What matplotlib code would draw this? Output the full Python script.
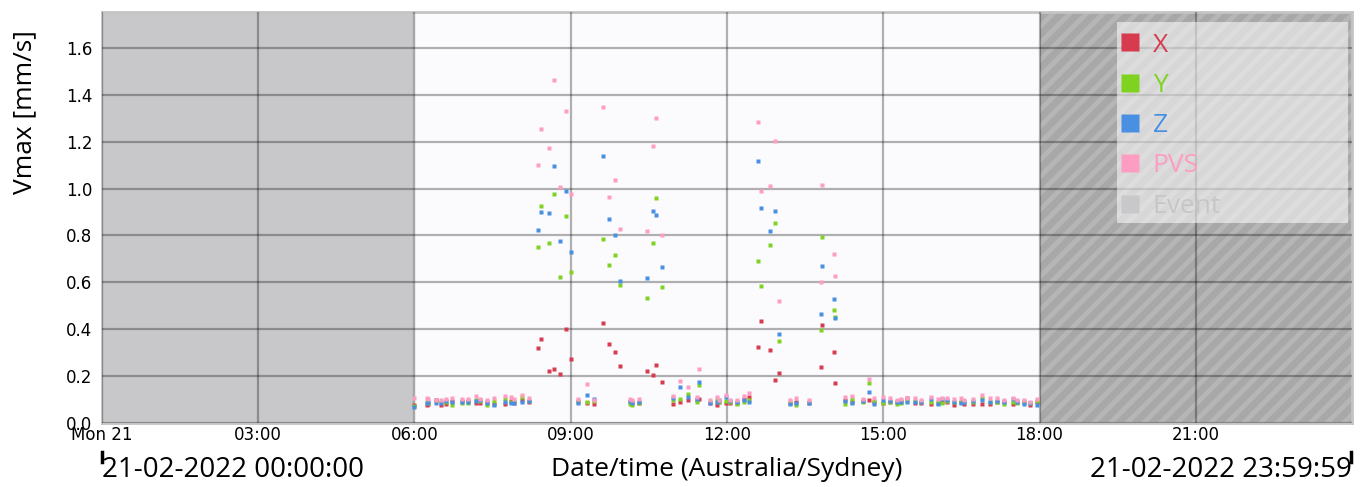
import matplotlib
matplotlib.use("Agg")
import matplotlib.pyplot as plt
from matplotlib.lines import Line2D
from matplotlib.patches import Rectangle

plt.rcParams['hatch.linewidth'] = 3.5
plt.rcParams['hatch.color'] = '#b6b6b6'

LABEL_FONT = ['Open Sans', 'DejaVu Sans']

# sample times (Australia/Sydney, 21-02-2022)
times = ["06:00", "06:14", "06:16", "06:25", "06:30", "06:36", "06:43", "06:55",
         "07:02", "07:11", "07:15", "07:23", "07:32", "07:44", "07:51", "07:55",
         "08:04", "08:12", "08:22", "08:26", "08:35", "08:41", "08:48", "08:55",
         "09:00", "09:08", "09:19", "09:27", "09:37", "09:44", "09:51", "09:57",
         "10:08", "10:10", "10:19", "10:28", "10:35", "10:38", "10:45", "10:58",
         "11:06", "11:15", "11:25", "11:28", "11:40", "11:48", "11:51", "11:59",
         "12:04", "12:11", "12:20", "12:25", "12:36", "12:39", "12:49", "12:55",
         "13:00", "13:12", "13:19", "13:34", "13:48", "13:50", "14:03", "14:04",
         "14:16", "14:24", "14:37", "14:44", "14:49", "15:00", "15:08", "15:16",
         "15:20", "15:27", "15:36", "15:44", "15:55", "16:03", "16:08", "16:13",
         "16:21", "16:30", "16:33", "16:43", "16:54", "17:03", "17:11", "17:19",
         "17:29", "17:34", "17:42", "17:49", "17:57"]

vx = [0.077, 0.077, 0.083, 0.097, 0.078, 0.081, 0.095, 0.094,
      0.092, 0.087, 0.087, 0.088, 0.080, 0.082, 0.092, 0.085,
      0.097, 0.090, 0.321, 0.358, 0.221, 0.230, 0.210, 0.401,
      0.273, 0.094, 0.085, 0.082, 0.427, 0.337, 0.303, 0.243,
      0.090, 0.091, 0.087, 0.223, 0.205, 0.249, 0.175, 0.081,
      0.091, 0.100, 0.098, 0.104, 0.085, 0.077, 0.088, 0.087,
      0.084, 0.085, 0.104, 0.109, 0.324, 0.435, 0.311, 0.183,
      0.215, 0.085, 0.090, 0.084, 0.239, 0.418, 0.303, 0.171,
      0.098, 0.090, 0.095, 0.098, 0.088, 0.087, 0.090, 0.088,
      0.095, 0.105, 0.084, 0.084, 0.081, 0.085, 0.090, 0.091,
      0.078, 0.090, 0.082, 0.082, 0.082, 0.082, 0.091, 0.088,
      0.082, 0.091, 0.088, 0.078, 0.088]

vy = [0.072, 0.091, 0.087, 0.094, 0.090, 0.088, 0.078, 0.084,
      0.084, 0.098, 0.092, 0.078, 0.094, 0.104, 0.090, 0.092,
      0.109, 0.095, 0.751, 0.926, 0.768, 0.977, 0.623, 0.883,
      0.643, 0.090, 0.090, 0.094, 0.785, 0.674, 0.717, 0.589,
      0.082, 0.077, 0.085, 0.533, 0.768, 0.960, 0.580, 0.098,
      0.104, 0.125, 0.090, 0.162, 0.090, 0.098, 0.091, 0.095,
      0.090, 0.081, 0.088, 0.100, 0.691, 0.584, 0.759, 0.853,
      0.350, 0.088, 0.077, 0.090, 0.397, 0.794, 0.482, 0.452,
      0.081, 0.101, 0.090, 0.172, 0.095, 0.087, 0.091, 0.081,
      0.084, 0.095, 0.095, 0.088, 0.090, 0.090, 0.085, 0.095,
      0.090, 0.091, 0.088, 0.090, 0.105, 0.090, 0.091, 0.080,
      0.090, 0.084, 0.090, 0.085, 0.095]

vz = [0.067, 0.085, 0.090, 0.084, 0.086, 0.095, 0.090, 0.090,
      0.088, 0.092, 0.097, 0.085, 0.077, 0.090, 0.087, 0.087,
      0.088, 0.092, 0.823, 0.900, 0.896, 1.097, 0.776, 0.991,
      0.730, 0.084, 0.120, 0.102, 1.140, 0.870, 0.802, 0.606,
      0.094, 0.085, 0.090, 0.619, 0.905, 0.888, 0.666, 0.105,
      0.155, 0.110, 0.102, 0.176, 0.084, 0.090, 0.098, 0.112,
      0.092, 0.090, 0.098, 0.091, 1.118, 0.917, 0.819, 0.904,
      0.380, 0.081, 0.087, 0.087, 0.465, 0.670, 0.529, 0.448,
      0.092, 0.087, 0.092, 0.132, 0.082, 0.097, 0.095, 0.090,
      0.090, 0.091, 0.090, 0.091, 0.102, 0.080, 0.101, 0.098,
      0.088, 0.087, 0.090, 0.094, 0.098, 0.091, 0.095, 0.091,
      0.101, 0.090, 0.082, 0.087, 0.078]

pvs = [0.105, 0.108, 0.101, 0.099, 0.097, 0.102, 0.105, 0.101,
       0.101, 0.115, 0.102, 0.098, 0.108, 0.115, 0.109, 0.101,
       0.119, 0.107, 1.100, 1.255, 1.173, 1.463, 1.007, 1.331,
       0.977, 0.102, 0.168, 0.098, 1.348, 0.964, 1.037, 0.828,
       0.102, 0.097, 0.101, 0.819, 1.181, 1.301, 0.802, 0.114,
       0.180, 0.155, 0.111, 0.232, 0.098, 0.112, 0.100, 0.119,
       0.098, 0.098, 0.114, 0.128, 1.284, 0.991, 1.011, 1.203,
       0.520, 0.098, 0.107, 0.098, 0.602, 1.015, 0.721, 0.627,
       0.111, 0.115, 0.104, 0.188, 0.108, 0.109, 0.107, 0.098,
       0.102, 0.107, 0.105, 0.098, 0.112, 0.102, 0.105, 0.105,
       0.102, 0.105, 0.098, 0.102, 0.120, 0.105, 0.105, 0.098,
       0.105, 0.098, 0.098, 0.091, 0.101]

series_names = ["X", "Y", "Z", "PVS"]
series_colors = ["#d63b4f", "#7ed321", "#4a90e2", "#fd9dc2"]
event_color = "#c8c8ca"

xtick_pos = [0, 3, 6, 9, 12, 15, 18, 21]
xtick_labels = ["Mon 21", "03:00", "06:00", "09:00", "12:00", "15:00", "18:00", "21:00"]
yticks = [0.0, 0.2, 0.4, 0.6, 0.8, 1.0, 1.2, 1.4, 1.6]

hours = [int(t[:2]) + int(t[3:]) / 60.0 for t in times]

fig = plt.figure(figsize=(13.69, 4.87), dpi=100)
ax = fig.add_axes([0.0745, 0.1314, 0.9131, 0.844])

# background zones
ax.set_facecolor('#fbfbfe')
ax.axvspan(0, 6, facecolor=event_color, edgecolor='none', zorder=0)
ax.axvspan(18, 24, facecolor='#a8a8a8', edgecolor='#b6b6b6', hatch='//', lw=0, zorder=0)
ax.axvline(6, color='#f2f2f2', lw=2, zorder=0.5)

for vals, col in zip([vx, vy, vz, pvs], series_colors):
    ax.plot(hours, vals, ls='none', marker='s', ms=3, mec='none', mfc=col, zorder=3)

ax.set_xlim(0, 24)
ax.set_ylim(0, 1.753)
ax.set_xticks(xtick_pos)
ax.set_xticklabels(xtick_labels)
ax.set_yticks(yticks)
ax.set_yticklabels(["%.1f" % v for v in yticks])
ax.tick_params(axis='both', length=0, labelsize=12, colors='black')
ax.tick_params(axis='x', pad=2)
ax.tick_params(axis='y', pad=7)
ax.grid(True, color='black', alpha=0.3, lw=1.6, zorder=1)
ax.set_axisbelow(False)
for s in ax.spines.values():
    s.set_color('#c4c4c4')
    s.set_linewidth(2)

fig.text(25 / 1369, 1 - 112 / 487, "Vmax [mm/s]", rotation=90, ha='center', va='center',
         fontsize=19, family=LABEL_FONT)

# legend box + entries
ax.add_patch(Rectangle((0.812, 0.4866), 0.1848, 0.489, transform=ax.transAxes,
                       facecolor='white', alpha=0.55, edgecolor='none', zorder=4))
handles = [Line2D([], [], ls='none', marker='s', ms=12.5, mec='none', mfc=c) for c in series_colors]
handles.append(Line2D([], [], ls='none', marker='s', ms=12.5, mec='none', mfc=event_color))
leg = ax.legend(handles, series_names + ["Event"], loc='upper left',
                bbox_to_anchor=(0.8152, 0.950), borderaxespad=0, borderpad=0,
                prop={'family': LABEL_FONT, 'size': 19}, frameon=False,
                handlelength=0.65, handletextpad=0.55, labelspacing=0.58)
for txt, c in zip(leg.get_texts(), series_colors + ['#c6c6c8']):
    txt.set_color(c)
leg.set_zorder(5)

# footer: range and axis title
fig.text(102 / 1369, 1 - 470 / 487, "21-02-2022 00:00:00", ha='left', va='center',
         fontsize=20, family=LABEL_FONT)
fig.text(1352 / 1369, 1 - 470 / 487, "21-02-2022 23:59:59", ha='right', va='center',
         fontsize=20, family=LABEL_FONT)
fig.text(727 / 1369, 1 - 470 / 487, "Date/time (Australia/Sydney)", ha='center', va='center',
         fontsize=19, family=LABEL_FONT)
fig.add_artist(Line2D([102 / 1369, 102 / 1369], [1 - 452 / 487, 1 - 462 / 487],
                      color='black', lw=2.5))
fig.add_artist(Line2D([1351 / 1369, 1351 / 1369], [1 - 452 / 487, 1 - 462 / 487],
                      color='black', lw=2.5))

fig.savefig("out.png", dpi=100)
